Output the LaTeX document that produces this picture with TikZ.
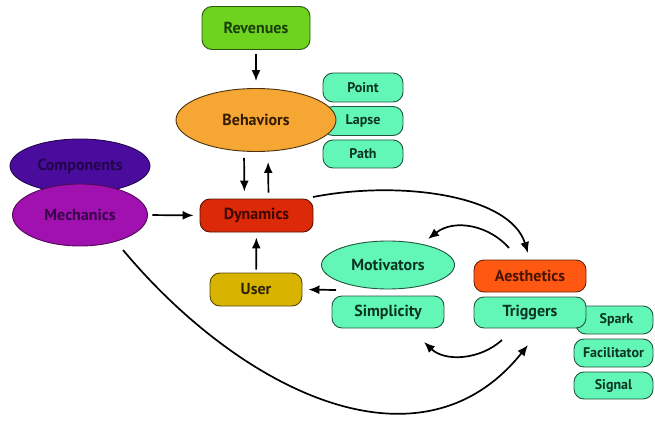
\documentclass[tikz,border=0pt]{standalone}
\usepackage{fontspec}
\setmainfont{PT Sans}
\usetikzlibrary{shapes.geometric,arrows.meta}

\definecolor{revfill}{HTML}{6DD31E}
\definecolor{revtext}{HTML}{1A4008}
\definecolor{behfill}{HTML}{F6A632}
\definecolor{behtext}{HTML}{331A00}
\definecolor{tealfill}{HTML}{62F7B6}
\definecolor{tealtext}{HTML}{0B3523}
\definecolor{dynfill}{HTML}{DC2A08}
\definecolor{dyntext}{HTML}{3E0600}
\definecolor{compfill}{HTML}{4A0C9C}
\definecolor{comptext}{HTML}{21054A}
\definecolor{mechfill}{HTML}{A011B0}
\definecolor{mechtext}{HTML}{38054B}
\definecolor{userfill}{HTML}{D8B300}
\definecolor{usertext}{HTML}{2E2400}
\definecolor{aesfill}{HTML}{FF5812}
\definecolor{aestext}{HTML}{4A1500}

\tikzset{
  blob/.style={line width=0.9pt, inner sep=0pt, align=center,
    font=\bfseries\fontsize{16}{18}\selectfont},
  pill/.style={blob, rectangle, rounded corners=10pt},
  oval/.style={blob, ellipse},
  small/.style={font=\bfseries\fontsize{14}{16}\selectfont},
  tealbox/.style={pill, fill=tealfill, draw=tealfill!35!black, text=tealtext},
  arr/.style={line width=1.7pt, -{Latex[length=11pt,width=9pt]}},
}

\begin{document}
\begin{tikzpicture}[x=1pt,y=-1pt]
\useasboundingbox (0,0) rectangle (655,422);

% top branch: revenues and behaviours with their three kinds
\node[pill, fill=revfill, draw=revfill!40!black, text=revtext,
  minimum width=108pt, minimum height=43pt] (rev) at (256,28) {Revenues};
\node[tealbox, small, minimum width=80pt, minimum height=29pt] (point) at (363,87.5) {Point};
\node[tealbox, small, minimum width=80pt, minimum height=29pt] (lapse) at (363,121) {Lapse};
\node[tealbox, small, minimum width=80pt, minimum height=28pt] (path) at (363,154) {Path};
\node[oval, fill=behfill, draw=behfill!30!black, text=behtext,
  minimum width=160pt, minimum height=63pt] (beh) at (256,120) {Behaviors};

% left branch
\node[oval, fill=compfill, draw=compfill!50!black, text=comptext,
  minimum width=140pt, minimum height=54pt] (comp) at (80,166) {Components};
\node[oval, fill=mechfill, draw=mechfill!50!black, text=mechtext,
  minimum width=135pt, minimum height=62pt] (mech) at (80,215) {Mechanics};

% centre
\node[pill, fill=dynfill, draw=dynfill!40!black, text=dyntext,
  minimum width=113pt, minimum height=33pt] (dyn) at (256.5,215.5) {Dynamics};
\node[pill, fill=userfill, draw=userfill!40!black, text=usertext,
  minimum width=92pt, minimum height=33pt] (user) at (256,289.5) {User};

% motivators
\node[oval, fill=tealfill, draw=tealfill!35!black, text=tealtext,
  minimum width=133pt, minimum height=48pt] (mot) at (388,265) {Motivators};
\node[tealbox, minimum width=112pt, minimum height=32pt] (simp) at (388,312) {Simplicity};

% aesthetics and triggers
\node[pill, fill=aesfill, draw=aesfill!40!black, text=aestext,
  minimum width=112pt, minimum height=32pt] (aes) at (530,276) {Aesthetics};
\node[tealbox, small, minimum width=77pt, minimum height=28pt] (spark) at (614.5,320) {\hspace*{4pt}Spark};
\node[tealbox, minimum width=112pt, minimum height=31pt] (trig) at (530,312.5) {Triggers};
\node[tealbox, small, minimum width=79pt, minimum height=28pt] (fac) at (613.5,353) {Facilitator};
\node[tealbox, small, minimum width=79pt, minimum height=27pt] (sig) at (613.5,385.5) {Signal};

% straight connectors
\draw[arr, shorten <=4pt, shorten >=7pt] (rev) -- (beh);
\draw[arr, shorten <=6pt, shorten >=7pt] ([xshift=-12pt]beh.south) -- ([xshift=-12pt]dyn.north);
\draw[arr, shorten <=6pt, shorten >=10pt] ([xshift=12pt]dyn.north) -- ([xshift=12pt]beh.south);
\draw[arr, shorten <=4.5pt, shorten >=6pt] (mech.east) -- (dyn.west);
\draw[arr, shorten <=3pt, shorten >=5pt] (user) -- (dyn);
\coordinate (simpleft) at (336,290);
\draw[arr, shorten >=6pt] (simpleft) -- (user.east);

% curved connectors
\coordinate (dynout) at (313,197);
\coordinate (aestip) at (528,253);
\draw[arr] (dynout) .. controls (400,180) and (510,195) .. (aestip);

\coordinate (aesout) at (509,248);
\coordinate (mottip) at (428,239);
\draw[arr] (aesout) .. controls (490,226) and (455,218) .. (mottip);

\coordinate (trigout) at (502,340);
\coordinate (simptip) at (424,342);
\draw[arr] (trigout) .. controls (480,360) and (445,362) .. (simptip);

\coordinate (mechout) at (123,250);
\coordinate (trigtip) at (528,345);
\draw[arr] (mechout) .. controls (240,390) and (420,480) .. (trigtip);
\end{tikzpicture}
\end{document}
